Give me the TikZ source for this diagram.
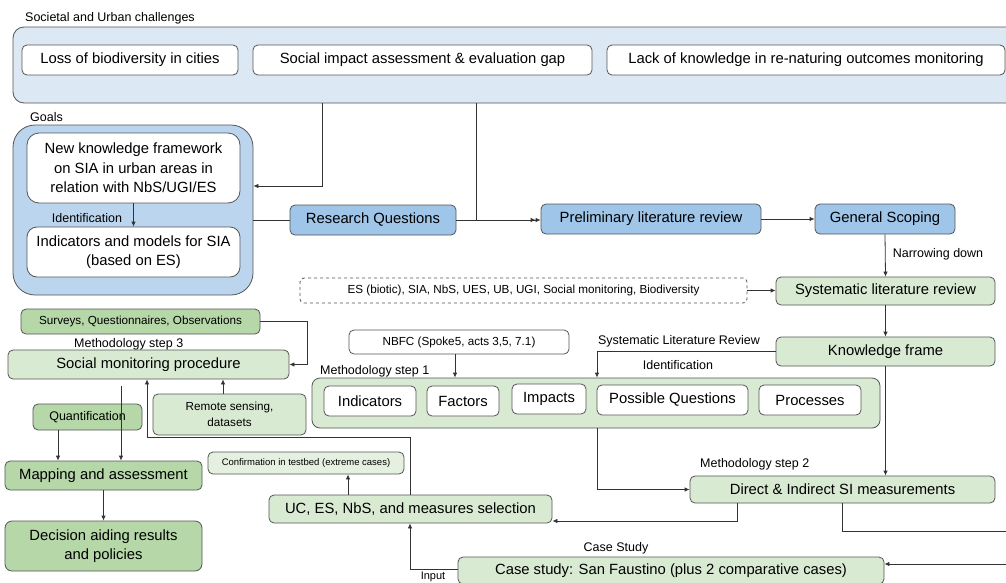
\documentclass[tikz,border=0pt]{standalone}
\usepackage{fontspec}
\setmainfont{Liberation Sans}
\usetikzlibrary{arrows.meta}
\definecolor{chalblue}{HTML}{DDE8F5}
\definecolor{goalblue}{HTML}{BCD5EE}
\definecolor{qblue}{HTML}{9FC5E8}
\definecolor{lgreen}{HTML}{D9EAD3}
\definecolor{mgreen}{HTML}{B6D7A8}
\definecolor{pgreen}{HTML}{E6F0E1}
\definecolor{bordc}{HTML}{555555}
\definecolor{linec}{HTML}{333333}
\newcommand{\fbig}{\fontsize{14.8}{19.5}\selectfont}
\newcommand{\flab}{\fontsize{12.5}{15}\selectfont}
\newcommand{\fsm}{\fontsize{11.7}{16}\selectfont}
\newcommand{\ftiny}{\fontsize{9.5}{12}\selectfont}
\tikzset{
  wh/.style 2 args={minimum width=#1pt, minimum height=#2pt},
  boxbase/.style={draw=bordc, line width=0.8pt, rounded corners=5pt, inner sep=0pt, align=center, font=\fbig, text=black},
  wbox/.style={boxbase, fill=white},
  bbox/.style={boxbase, fill=qblue},
  gbox/.style={boxbase, fill=lgreen},
  mbox/.style={boxbase, fill=mgreen},
  lbl/.style={font=\flab, inner sep=0pt, text=black},
  conn/.style={draw=linec, line width=0.8pt},
  arr/.style={conn, -{Latex[length=5pt,width=4.5pt]}},
}
\begin{document}
\begin{tikzpicture}[x=1pt, y=-1pt]
\useasboundingbox (0,0) rectangle (1006,582);
\fill[white] (0,0) rectangle (1006,582);

% Societal and Urban challenges
\node[lbl, anchor=base west] (challab) at (25,21) {Societal and Urban challenges};
\node[boxbase, fill=chalblue, rounded corners=11pt, wh={1017}{76}] (chal) at (521.5,65) {};
\node[wbox, wh={216}{30}] (loss) at (130,60) {Loss of biodiversity in cities};
\node[wbox, wh={339}{30}] (sia) at (422.5,60) {Social impact assessment \& evaluation gap};
\node[wbox, wh={398}{30}] (lack) at (806,60) {Lack of knowledge in re-naturing outcomes monitoring};

% Goals
\node[lbl, anchor=base west] (goallab) at (30,121) {Goals};
\node[boxbase, fill=goalblue, rounded corners=22pt, wh={240}{170}] (goals) at (133,210) {};
\node[wbox, rounded corners=12pt, wh={213}{70}] (nkf) at (133.5,168) {New knowledge framework\\on SIA in urban areas in\\relation with NbS/UGI/ES};
\node[wbox, rounded corners=10pt, wh={213}{50}] (ind) at (133.5,252) {Indicators and models for SIA\\(based on ES)};
\node[lbl] (identlab1) at (87,218) {Identification};

% top row
\node[bbox, wh={166}{30}] (rq) at (373,220) {Research Questions};
\node[bbox, wh={220}{30}] (prelim) at (651,219) {Preliminary literature review};
\node[bbox, wh={140}{30}] (gs) at (885,219) {General Scoping};
\node[lbl] (narrow) at (938,254) {Narrowing down};
\node[gbox, wh={219}{28}] (slr) at (885.5,291) {Systematic literature review};
\node[wbox, dashed, rounded corners=4pt, font=\fsm, wh={447}{25}] (es) at (523.5,290.5) {ES (biotic), SIA, NbS, UES, UB, UGI, Social monitoring, Biodiversity};
\node[gbox, wh={219}{29}] (kf) at (885.5,351.5) {Knowledge frame};

% methodology step 1
\node[wbox, font=\fsm, wh={220}{24}] (nbfc) at (459,342) {NBFC (Spoke5, acts 3,5, 7.1)};
\node[lbl] (slrlab) at (679,341) {Systematic Literature Review};
\node[lbl] (identlab2) at (678,365) {Identification};
\node[lbl, anchor=base west] (m1lab) at (320,374) {Methodology step 1};
\node[gbox, rounded corners=8pt, wh={568}{50}] (step1) at (596,403) {};
\node[wbox, wh={92}{30}] (indic) at (370,401) {Indicators};
\node[wbox, wh={72}{30}] (fact) at (463,401) {Factors};
\node[wbox, wh={74}{30}] (imp) at (549,399) {Impacts};
\node[wbox, wh={151}{30}] (pq) at (672.5,400) {Possible Questions};
\node[wbox, wh={102}{30}] (proc) at (810,400) {Processes};

% methodology step 2
\node[lbl, anchor=base west] (m2lab) at (700,467) {Methodology step 2};
\node[gbox, wh={305}{27}] (di) at (842.5,489.5) {Direct \& Indirect SI measurements};
\node[gbox, wh={283}{28}] (uc) at (410.5,509) {UC, ES, NbS, and measures selection};
\node[boxbase, fill=pgreen, font=\ftiny, wh={196}{22}] (conf) at (306,463) {Confirmation in testbed (extreme cases)};
\node[lbl] (cslab) at (616,548) {Case Study};
\node[gbox, wh={426}{27}] (cs) at (671,570.5) {Case study: San Faustino (plus 2 comparative cases)};
\node[lbl, font=\fontsize{11}{13}\selectfont, anchor=base] (inputlab) at (433,579.5) {Input};

% left column
\node[mbox, font=\fsm, wh={239}{25}] (surv) at (140.5,321.5) {Surveys, Questionnaires, Observations};
\node[lbl, anchor=base west] (m3lab) at (74,347) {Methodology step 3};
\node[gbox, wh={281}{29}] (smp) at (148.5,364.5) {Social monitoring procedure};
\node[mbox, font=\flab, wh={109}{26}] (quant) at (87.5,417) {Quantification};
\node[gbox, font=\fsm, wh={153}{41}] (remote) at (229.5,414.5) {Remote sensing,\\datasets};
\node[mbox, wh={197}{29}] (map) at (103.5,475.5) {Mapping and assessment};
\node[mbox, rounded corners=7pt, wh={197}{50}] (dec) at (103.5,546) {Decision aiding results\\and policies};

% helper coordinates
\coordinate (c1) at (322,186);
\coordinate (j1) at (476,220);
\coordinate (xq) at (597,400);
\coordinate (c3) at (737,521);
\coordinate (c4) at (842,531);
\coordinate (offr1) at (1020,531);
\coordinate (offr2) at (1020,564);
\coordinate (c5) at (410,569.5);
\coordinate (c6) at (348,480);
\coordinate (c7) at (410,437);
\coordinate (c8) at (147,437);
\coordinate (c9) at (307,340);
\coordinate (c10) at (223,380);
\coordinate (c11) at (121,420);
\coordinate (c12) at (58,440);
\coordinate (c13) at (455,360);

% connectors
\draw[arr] (chal.south -| c1) |- (goals.east |- c1);
\draw[conn] (chal.south -| j1) -- (j1);
\draw[conn] (goals.east |- rq.west) -- (rq.west);
\draw[conn, -{Latex[length=5pt,width=4.5pt]Latex[length=5pt,width=4.5pt]}] (rq.east) -- (prelim.west |- rq.east);
\draw[arr] (prelim.east) -- (gs.west);
\draw[arr] (gs.south) -- (slr.north);
\draw[arr] (es.east) -- (slr.west |- es.east);
\draw[arr] (slr.south) -- (kf.north);
\draw[arr] (kf.west) -| (step1.north -| xq);
\draw[arr] (nbfc.south -| c13) -- (step1.north -| c13);
\draw[arr] (step1.south -| xq) |- (di.west);
\draw[arr] (kf.south) -- (di.north -| kf.south);
\draw[arr] (di.south -| c3) |- (uc.east |- c3);
\draw[conn] (di.south -| c4) |- (offr1);
\draw[arr] (offr2) -- (cs.east |- offr2);
\draw[arr] (cs.west |- c5) -| (uc.south -| c5);
\draw[arr] (uc.north -| c6) -- (conf.south -| c6);
\draw[arr] (uc.north -| c7) -- (c7) -- (c8) -- (smp.south -| c8);
\draw[arr] (surv.east) -| (smp.east -| c9) -- (smp.east);
\draw[arr] (remote.north -| c10) -- (smp.south -| c10);
\draw[arr, shorten <=7pt] (smp.south -| c11) -- (map.north -| c11);
\draw[arr] (quant.south -| c12) -- (map.north -| c12);
\draw[arr] (map.south) -- (dec.north);
\draw[arr] (nkf.south) -- (ind.north);
\end{tikzpicture}
\end{document}
